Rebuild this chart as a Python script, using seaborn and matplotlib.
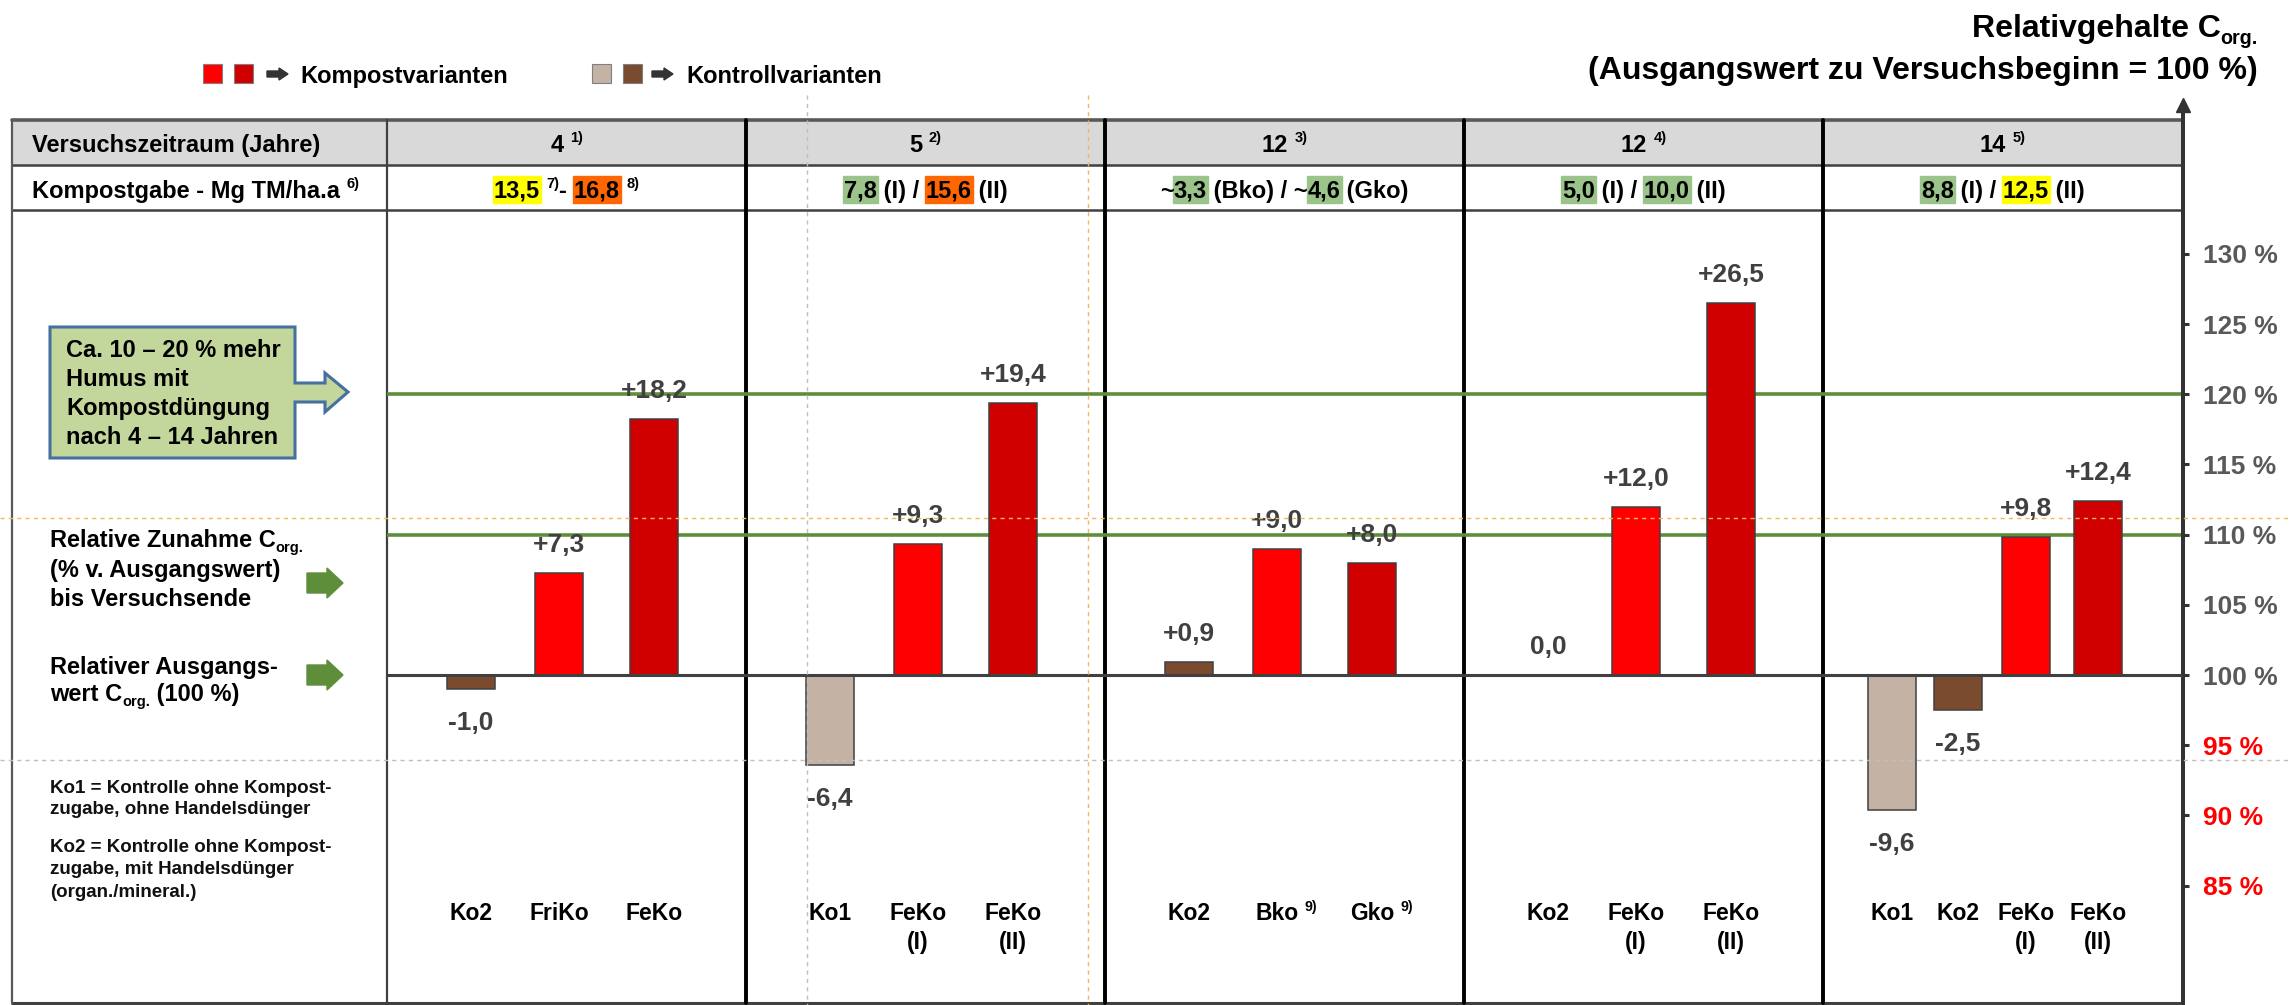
import numpy as np
import pandas as pd
import matplotlib.pyplot as plt
from matplotlib.patches import Polygon, Rectangle
import seaborn as sns

# --- data ---------------------------------------------------------------
years = ["4", "5", "12", "12", "14"]
year_notes = ["1)", "2)", "3)", "4)", "5)"]
variants = [
    ["Ko2", "FriKo", "FeKo"],
    ["Ko1", "FeKo\n(I)", "FeKo\n(II)"],
    ["Ko2", "Bko", "Gko"],
    ["Ko2", "FeKo\n(I)", "FeKo\n(II)"],
    ["Ko1", "Ko2", "FeKo\n(I)", "FeKo\n(II)"],
]
variant_notes = [
    [None, None, None],
    [None, None, None],
    [None, "9)", "9)"],
    [None, None, None],
    [None, None, None, None],
]
kinds = [
    ["Ko2", "K1", "K2"],
    ["Ko1", "K1", "K2"],
    ["Ko2", "K1", "K2"],
    ["Ko2", "K1", "K2"],
    ["Ko1", "Ko2", "K1", "K2"],
]
# change of C_org. in % of the start value
changes = [
    [-1.0, 7.3, 18.2],
    [-6.4, 9.3, 19.4],
    [0.9, 9.0, 8.0],
    [0.0, 12.0, 26.5],
    [-9.6, -2.5, 9.8, 12.4],
]
# compost rates, pieces of (text, style): None, sup, y/o/g highlight
compost_rates = [
    [("13,5", "y"), (" ", None), ("7)", "sup"), ("- ", None), ("16,8", "o"), (" ", None), ("8)", "sup")],
    [("7,8", "g"), (" (I) / ", None), ("15,6", "o"), (" (II)", None)],
    [("~", None), ("3,3", "g"), (" (Bko) / ~", None), ("4,6", "g"), (" (Gko)", None)],
    [("5,0", "g"), (" (I) / ", None), ("10,0", "g"), (" (II)", None)],
    [("8,8", "g"), (" (I) / ", None), ("12,5", "y"), (" (II)", None)],
]
tick_values = [-15, -10, -5, 0, 5, 10, 15, 20, 25, 30]

# --- colours / layout (pixels of the 2289x1005 picture) --------------------
RED, DRED, BEIGE, BROWN = "#FF0000", "#D10000", "#C4B2A5", "#7A4B2F"
GREEN = "#5E8E3A"
HIGHLIGHT = {"y": "#FFFF00", "o": "#FF6600", "g": "#9BC48A"}
palette = {"Ko1": BEIGE, "Ko2": BROWN, "K1": RED, "K2": DRED}

W, H, DPI = 2289, 1005, 100
PX = 72 / DPI  # points per pixel
TAB_L, COL1_R, GROUP_W, AXIS_X = 12, 387, 359, 2183
TAB_T, ROW1_B, ROW2_B, TAB_B = 120, 165, 210, 1003
Y100, PPU, AX_TOP = 675, 14.04, 105
BAR_W = 48
SLOTS = {3: [84, 172, 267], 4: [69, 135, 203, 275]}

sns.set_theme(style="white")
plt.rcParams["font.family"] = ["Liberation Sans", "DejaVu Sans"]

fig = plt.figure(figsize=(W / DPI, H / DPI), dpi=DPI)
ax0 = fig.add_axes([0, 0, 1, 1], zorder=0)
ax0.set_xlim(0, W)
ax0.set_ylim(H, 0)
ax0.axis("off")
rend = fig.canvas.get_renderer()


def text_w(s, size):
    t = ax0.text(0, 0, s + "|", fontsize=size, fontweight="bold")
    r = ax0.text(0, 0, "|", fontsize=size, fontweight="bold")
    w = t.get_window_extent(rend).width - r.get_window_extent(rend).width
    t.remove()
    r.remove()
    return w


def runs(ax_, x, y, pieces, size=17, ha="left", color="black"):
    em = size / PX
    sizes = [size * 0.62 if st in ("sup", "sub") else size for s, st in pieces]
    widths = [text_w(s, fs) for (s, st), fs in zip(pieces, sizes)]
    total = sum(widths)
    x0 = {"left": x, "center": x - total / 2, "right": x - total}[ha]
    base = y + 0.36 * em
    for (s, st), fs, w in zip(pieces, sizes, widths):
        dy = {"sup": -0.40 * em, "sub": 0.22 * em}.get(st, 0)
        if st in HIGHLIGHT:
            ax_.add_patch(Rectangle((x0 - 1, y - 0.55 * em), w + 2, 1.15 * em,
                                    color=HIGHLIGHT[st], zorder=1))
        ax_.text(x0, base + dy, s, fontsize=fs, fontweight="bold", color=color,
                 va="baseline", ha="left", zorder=2)
        x0 += w


def block_arrow(ax_, x0, x1, yc, shaft, head, head_len, **kw):
    xs = x1 - head_len
    pts = [(x0, yc - shaft / 2), (xs, yc - shaft / 2), (xs, yc - head / 2), (x1, yc),
           (xs, yc + head / 2), (xs, yc + shaft / 2), (x0, yc + shaft / 2)]
    ax_.add_patch(Polygon(pts, closed=True, **kw))


# --- table -----------------------------------------------------------------
ax0.add_patch(Rectangle((TAB_L, TAB_T), AXIS_X - TAB_L, ROW1_B - TAB_T,
                        color="#D9D9D9", zorder=0))
ax0.plot([TAB_L, AXIS_X], [TAB_T, TAB_T], color="#595959", lw=2.6, zorder=1)
for yy in (ROW1_B, ROW2_B):
    ax0.plot([TAB_L, AXIS_X], [yy, yy], color="#404040", lw=1.8, zorder=1)
ax0.plot([TAB_L, AXIS_X], [TAB_B, TAB_B], color="#404040", lw=2.2, zorder=1)
ax0.plot([TAB_L, TAB_L], [TAB_T, TAB_B], color="#595959", lw=1.6, zorder=1)
ax0.plot([COL1_R, COL1_R], [TAB_T, TAB_B], color="#404040", lw=1.6, zorder=1)
for g in range(1, len(years)):
    xg = COL1_R + g * GROUP_W
    ax0.plot([xg, xg], [TAB_T, TAB_B], color="black", lw=2.8, zorder=1)

runs(ax0, 32, 143, [("Versuchszeitraum (Jahre)", None)])
runs(ax0, 32, 189, [("Kompostgabe - Mg TM/ha.a", None), (" ", None), ("6)", "sup")])
for g in range(len(years)):
    cx = COL1_R + (g + 0.5) * GROUP_W
    runs(ax0, cx, 143, [(years[g], None), (" ", None), (year_notes[g], "sup")], ha="center")
    runs(ax0, cx, 189, compost_rates[g], ha="center")

# --- legend and title -----------------------------------------------------------
for x0, c in [(203, RED), (234, DRED), (592, BEIGE), (623, BROWN)]:
    ax0.add_patch(Rectangle((x0, 64), 19, 19, fc=c, ec="#808080", lw=0.8))
block_arrow(ax0, 267, 288, 74, 6, 12, 9, color="#333333")
block_arrow(ax0, 652, 673, 74, 6, 12, 9, color="#333333")
runs(ax0, 300, 74, [("Kompostvarianten", None)])
runs(ax0, 686, 74, [("Kontrollvarianten", None)])
runs(ax0, 2258, 25, [("Relativgehalte C", None), ("org.", "sub")], size=23, ha="right")
runs(ax0, 2258, 67, [("(Ausgangswert zu Versuchsbeginn = 100 %)", None)], size=23, ha="right")

# --- left column notes ----------------------------------------------------------
callout = [(50, 327), (295, 327), (295, 383), (325, 383), (325, 373), (348, 392),
           (325, 412), (325, 402), (295, 402), (295, 458), (50, 458)]
ax0.add_patch(Polygon(callout, closed=True, fc="#C3D69B", ec="#46709F", lw=2.2, zorder=1))
for i, line in enumerate(["Ca. 10 – 20 % mehr", "Humus mit", "Kompostdüngung",
                          "nach 4 – 14 Jahren"]):
    runs(ax0, 66, 348 + i * 29, [(line, None)])

runs(ax0, 50, 538, [("Relative Zunahme C", None), ("org.", "sub")])
runs(ax0, 50, 568, [("(% v. Ausgangswert)", None)])
runs(ax0, 50, 597, [("bis Versuchsende", None)])
runs(ax0, 50, 665, [("Relativer Ausgangs-", None)])
runs(ax0, 50, 692, [("wert C", None), ("org.", "sub"), (" (100 %)", None)])
block_arrow(ax0, 307, 343, 583, 20, 30, 16, color=GREEN)
block_arrow(ax0, 307, 343, 675, 20, 30, 16, color=GREEN)

notes = [(786, "Ko1 = Kontrolle ohne Kompost-"), (807, "zugabe, ohne Handelsdünger"),
         (845, "Ko2 = Kontrolle ohne Kompost-"), (867, "zugabe, mit Handelsdünger"),
         (890, "(organ./mineral.)")]
for yy, line in notes:
    runs(ax0, 50, yy, [(line, None)], size=13.5, color="#111111")

# --- bars -------------------------------------------------------------------
rows = []
for g, vals in enumerate(changes):
    for i, v in enumerate(vals):
        pos = COL1_R + g * GROUP_W + SLOTS[len(vals)][i]
        rows.append({"pos": pos, "change": v, "kind": kinds[g][i],
                     "label": variants[g][i], "note": variant_notes[g][i]})
df = pd.DataFrame(rows)
min_gap = np.diff(np.sort(df["pos"].unique())).min()

ax = fig.add_axes([TAB_L / W, (H - TAB_B) / H, (AXIS_X - TAB_L) / W, (TAB_B - AX_TOP) / H],
                  zorder=1)
ax.set_facecolor("none")
sns.barplot(data=df, x="pos", y="change", hue="kind", hue_order=["Ko1", "Ko2", "K1", "K2"],
            palette=palette, saturation=1, native_scale=True, dodge=False,
            width=BAR_W / min_gap, errorbar=None, edgecolor="#404040", linewidth=1.1,
            legend=False, ax=ax, zorder=3)
ax.set_xlim(TAB_L, AXIS_X)
ax.set_ylim(-(TAB_B - Y100) / PPU, (Y100 - AX_TOP) / PPU)
ax.hlines([20, 10], COL1_R, AXIS_X, colors=GREEN, lw=2.6, zorder=2)
ax.hlines(0, COL1_R, AXIS_X, colors="#404040", lw=2.2, zorder=4)

for s in ["left", "top", "bottom"]:
    ax.spines[s].set_visible(False)
ax.spines["right"].set_color("#333333")
ax.spines["right"].set_linewidth(2.9)
ax.plot([1], [1], marker="^", ms=10.5, color="#333333", transform=ax.transAxes, clip_on=False)
ax.yaxis.tick_right()
ax.set_yticks(tick_values)
ax.set_yticklabels([f"{100 + t} %" for t in tick_values], fontweight="bold")
ax.tick_params(axis="y", direction="out", length=4.3, width=2.2, color="#333333",
               pad=10, labelsize=19, right=True, left=False)
for lbl, t in zip(ax.get_yticklabels(), tick_values):
    lbl.set_color("#595959" if t >= 0 else RED)
ax.set_xticks([])
ax.set_xlabel("")
ax.set_ylabel("")

for _, r in df.iterrows():
    v = r["change"]
    txt = "0,0" if v == 0 else f"{v:+.1f}".replace(".", ",")
    off = 28 if v >= 0 else -34
    ax.annotate(txt, (r["pos"], v), xytext=(0, off * PX), textcoords="offset points",
                ha="center", va="center", fontsize=19, fontweight="bold", color="#404040",
                zorder=5)
    for j, line in enumerate(r["label"].split("\n")):
        yy = 912 + j * 29
        if r["note"]:
            runs(ax0, r["pos"] - text_w(line, 16.5) / 2, yy,
                 [(line, None), (" ", None), (r["note"], "sup")], size=16.5)
        else:
            runs(ax0, r["pos"], yy, [(line, None)], size=16.5, ha="center")

# --- guide lines on top --------------------------------------------------------------
ax2 = fig.add_axes([0, 0, 1, 1], zorder=5)
ax2.set_xlim(0, W)
ax2.set_ylim(H, 0)
ax2.axis("off")
ax2.plot([0, W], [518, 518], color="#F8B35E", lw=1.0, dashes=(3, 3))
ax2.plot([1088, 1088], [95, H], color="#F8B35E", lw=1.0, dashes=(3, 3))
ax2.plot([0, W], [760, 760], color="#BFBFBF", lw=1.0, dashes=(3, 3))
ax2.plot([807, 807], [95, H], color="#BFBFBF", lw=1.0, dashes=(3, 3))

fig.savefig("out.png", dpi=DPI)
